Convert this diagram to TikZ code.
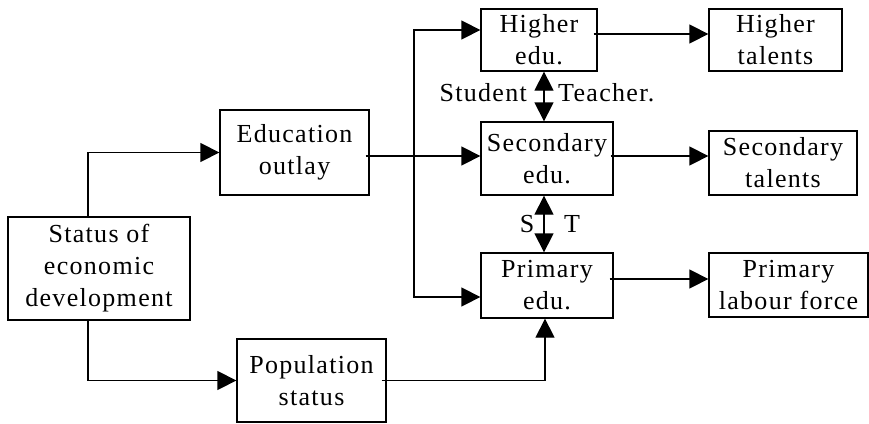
\documentclass[tikz,border=0pt]{standalone}
\usepackage{fontspec}
\setmainfont{Liberation Serif}[LetterSpace=5]
\usetikzlibrary{arrows.meta}
\tikzset{
  box/.style={draw, line width=1.3pt, inner sep=0pt, align=center,
    font=\fontsize{26pt}{32pt}\selectfont},
  lbl/.style={inner sep=0pt, font=\fontsize{26pt}{32pt}\selectfont},
  arr/.style={line width=1.3pt, -{Triangle[length=19pt,width=19pt]}},
  darr/.style={line width=1.3pt, {Triangle[length=19pt,width=19pt]}-{Triangle[length=19pt,width=19pt]}},
  ln/.style={line width=1.3pt}
}
\begin{document}
\begin{tikzpicture}[x=1pt,y=-1pt]
\useasboundingbox (0,0) rectangle (869,423);
% boxes
\node[box, minimum width=182pt, minimum height=103pt] (status) at (99,268.5) {Status of\\economic\\development};
\node[box, minimum width=149pt, minimum height=85pt] (eduout) at (294.5,152.5) {Education\\outlay};
\node[box, minimum width=149pt, minimum height=83pt] (pop) at (311.5,380.5) {Population\\status};
\node[box, minimum width=116pt, minimum height=62pt] (higher) at (539,40) {Higher\\edu.};
\node[box, minimum width=133pt, minimum height=62pt] (hital) at (775.5,40) {Higher\\talents};
\node[box, minimum width=132pt, minimum height=73pt] (sec) at (547,158.5) {Secondary\\edu.};
\node[box, minimum width=148pt, minimum height=64pt] (sectal) at (783,163) {Secondary\\talents};
\node[box, minimum width=132pt, minimum height=65pt] (prim) at (547,285.5) {Primary\\edu.};
\node[box, minimum width=159pt, minimum height=64pt] (primlab) at (788.5,285) {Primary\\labour force};
% labels
\node[lbl, anchor=east] (stu) at (527,93) {Student};
\node[lbl, anchor=west] (tea) at (558,93) {Teacher.};
\node[lbl] (s) at (527,224) {S};
\node[lbl] (t) at (572,224) {T};
% helper coordinates
\coordinate (dist) at (414,156);
\coordinate (hiout) at ([xshift=-4pt,yshift=6pt]higher.east);
\coordinate (secout) at ([xshift=-3pt,yshift=2.5pt]sec.east);
\coordinate (primout) at ([xshift=-4pt,yshift=6.5pt]prim.east);
\coordinate (eduoutr) at ([xshift=-4pt,yshift=-3.5pt]eduout.east);
% connectors
\draw[arr] ([xshift=-11pt]status.north) |- (eduout.west);
\draw[arr] ([xshift=-11pt]status.south) |- (pop.west);
\draw[arr] ([xshift=-5pt]pop.east) -| ([xshift=-2pt]prim.south);
\draw[arr] (eduoutr) -- (sec.west |- eduoutr);
\draw[ln] (dist) -- (414,30);
\draw[arr] (dist) |- ([yshift=10pt]higher.west);
\draw[arr] (dist) |- ([yshift=-11.5pt]prim.west);
\draw[arr] (hiout) -- (hital.west |- hiout);
\draw[arr] (secout) -- (sectal.west |- secout);
\draw[arr] (primout) -- (primlab.west |- primout);
\draw[darr] ([xshift=5pt]higher.south) -- ([xshift=5pt]higher.south |- sec.north);
\draw[darr] ([xshift=-3pt]sec.south) -- ([xshift=-3pt]sec.south |- prim.north);
\end{tikzpicture}
\end{document}
